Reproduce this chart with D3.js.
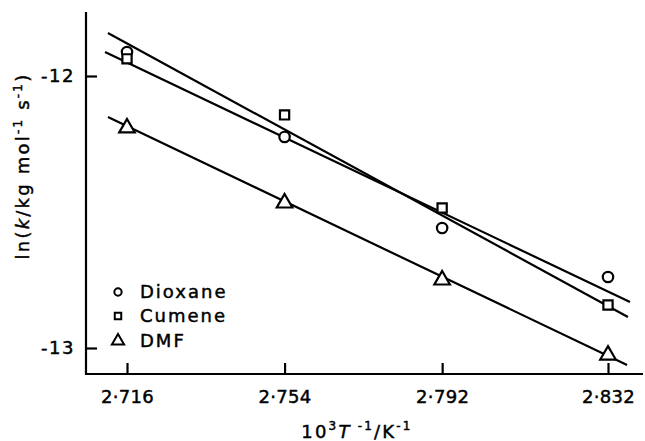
<!DOCTYPE html>
<html>
<head>
<meta charset="utf-8">
<script src="https://cdn.jsdelivr.net/npm/d3@7"></script>
<style>
  html, body { margin: 0; padding: 0; background: #fff; }
  svg { display: block; }
  text { font-family: "DejaVu Sans", sans-serif; fill: #000; stroke: #000; stroke-width: 0.45px; }
</style>
</head>
<body>
<svg id="chart" width="645" height="441"></svg>
<script>
// ---- data ----
const xTicks = [2.716, 2.754, 2.792, 2.832];
const yTicks = [-12, -13];
const invT = [2.716, 2.754, 2.792, 2.832];
const dioxane = [-11.912, -12.224, -12.559, -12.739];
const cumene = [-11.937, -12.143, -12.485, -12.842];
const dmf = [-12.191, -12.467, -12.750, -13.026];
const dioxaneFit = [[2.7107, -11.912], [2.8373, -12.831]];
const cumeneFit = [[2.7114, -11.842], [2.8368, -12.886]];
const dmfFit = [[2.7114, -12.151], [2.8366, -13.0625]];
const seriesNames = ["Dioxane", "Cumene", "DMF"];

// ---- layout ----
const svg = d3.select("#chart");
const axisX0 = 86, axisX1 = 643, axisY0 = 12, axisY1 = 374;
const x = d3.scaleLinear().domain([2.716, 2.832]).range([127, 608]);
const y = d3.scaleLinear().domain([-12, -13]).range([76, 348]);

// axes lines
svg.append("line").attr("x1", axisX0).attr("x2", axisX0).attr("y1", axisY0).attr("y2", axisY1 + 1)
  .attr("stroke", "#000").attr("stroke-width", 2.2);
svg.append("line").attr("x1", axisX0 - 1).attr("x2", axisX1).attr("y1", axisY1).attr("y2", axisY1)
  .attr("stroke", "#000").attr("stroke-width", 2.2);

// x axis
const gx = svg.append("g").attr("transform", `translate(0,${axisY1})`)
  .call(d3.axisBottom(x).tickValues(xTicks).tickSizeInner(-11).tickSizeOuter(0).tickPadding(16)
    .tickFormat(d => d3.format(".3f")(d).replace(".", "\u00B7")));
gx.select(".domain").remove();
gx.selectAll(".tick line").attr("stroke", "#000").attr("stroke-width", 2.2);
gx.selectAll(".tick text").attr("font-size", 18).attr("font-family", "DejaVu Sans").attr("fill", "#000")
  .attr("letter-spacing", "0.3px");

// y axis
const gy = svg.append("g").attr("transform", `translate(${axisX0},0)`)
  .call(d3.axisLeft(y).tickValues(yTicks).tickSizeInner(-11).tickSizeOuter(0).tickPadding(11)
    .tickFormat(d => "-" + Math.abs(d)));
gy.select(".domain").remove();
gy.selectAll(".tick line").attr("stroke", "#000").attr("stroke-width", 2.2);
gy.selectAll(".tick text").attr("font-size", 18).attr("font-family", "DejaVu Sans").attr("fill", "#000")
  .attr("letter-spacing", "1.5px");

// fit lines
const line = d3.line().x(d => x(d[0])).y(d => y(d[1]));
[dioxaneFit, cumeneFit, dmfFit].forEach(f => {
  svg.append("path").attr("d", line(f)).attr("fill", "none").attr("stroke", "#000").attr("stroke-width", 2.2);
});

// markers
const sym = [d3.symbolCircle, d3.symbolSquare, d3.symbolTriangle];
const sizes = [85, 85, 105];
const data = [dioxane, cumene, dmf];
data.forEach((vals, i) => {
  svg.append("g").selectAll("path").data(vals).join("path")
    .attr("transform", (d, j) => `translate(${x(invT[j])},${y(d)})`)
    .attr("d", d3.symbol().type(sym[i]).size(sizes[i]))
    .attr("fill", "#fff").attr("stroke", "#000").attr("stroke-width", 2.2);
});

// legend
const legY = [292, 316, 341];
const legSizes = [42, 42, 65];
seriesNames.forEach((name, i) => {
  svg.append("path").attr("transform", `translate(118,${legY[i]})`)
    .attr("d", d3.symbol().type(sym[i]).size(legSizes[i]))
    .attr("fill", "#fff").attr("stroke", "#000").attr("stroke-width", 2);
  svg.append("text").attr("x", 140).attr("y", legY[i] + 6).attr("font-size", 18)
    .attr("letter-spacing", "2px").text(name);
});

// y axis label
const yl = svg.append("text").attr("transform", "translate(29,166) rotate(-90)")
  .attr("text-anchor", "middle").attr("font-size", 18).attr("letter-spacing", "2.2px");
yl.append("tspan").text("ln(");
yl.append("tspan").attr("font-style", "italic").text("k");
yl.append("tspan").text("/kg mol");
yl.append("tspan").attr("font-size", 12).attr("dy", -7).text("-1");
yl.append("tspan").attr("dy", 7).text(" s");
yl.append("tspan").attr("font-size", 12).attr("dy", -7).text("-1");
yl.append("tspan").attr("dy", 7).text(")");

// x axis label
const xl = svg.append("text").attr("x", 357).attr("y", 438)
  .attr("text-anchor", "middle").attr("font-size", 18).attr("letter-spacing", "2.2px");
xl.append("tspan").text("10");
xl.append("tspan").attr("font-size", 12).attr("dy", -8).text("3");
xl.append("tspan").attr("dy", 8).attr("font-style", "italic").text("T");
xl.append("tspan").attr("font-size", 12).attr("dy", -8).text(" -1");
xl.append("tspan").attr("dy", 8).text("/K");
xl.append("tspan").attr("font-size", 12).attr("dy", -8).text("-1");
</script>
</body>
</html>
